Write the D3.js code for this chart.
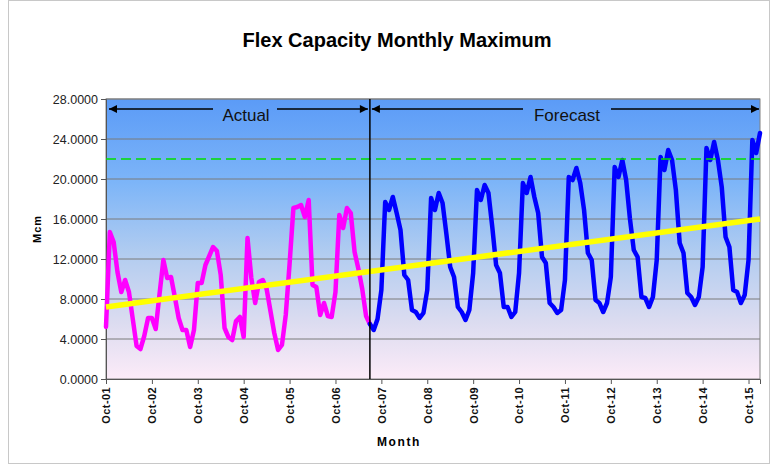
<!DOCTYPE html>
<html><head><meta charset="utf-8">
<script src="https://cdn.jsdelivr.net/npm/d3@7"></script>
<style>
body{margin:0;background:#fff;}
text{font-family:"Liberation Sans",Arial,sans-serif;}
</style></head>
<body>
<svg id="c" width="771" height="466"></svg>
<script>
// ---- data ----
const tickLabels = ["Oct-01","Oct-02","Oct-03","Oct-04","Oct-05","Oct-06","Oct-07","Oct-08","Oct-09","Oct-10","Oct-11","Oct-12","Oct-13","Oct-14","Oct-15"];
const yTicks = [0,4,8,12,16,20,24,28];
const actualStart = 0;
const actual = [5.2,14.7,13.7,10.7,8.7,9.9,8.7,6.0,3.3,3.0,
 4.3,6.1,6.1,5.0,8.5,11.9,10.1,10.2,8.2,6.1,
 4.9,4.9,3.2,4.9,9.6,9.6,11.4,12.3,13.2,12.8,
 10.4,5.1,4.2,3.9,5.8,6.2,4.2,14.1,10.1,7.6,
 9.7,9.9,9.0,6.8,4.6,2.9,3.4,6.4,11.5,17.1,
 17.2,17.4,16.2,17.9,9.4,9.2,6.4,7.6,6.3,6.2,
 8.7,16.4,15.1,17.1,16.6,12.7,11.0,9.0,6.3,5.5];
const forecastStart = 69;
const forecast = [5.5,4.9,6.0,
 8.9,17.7,16.9,18.2,16.6,14.9,10.4,9.9,6.9,6.7,6.1,6.6,
 8.9,18.1,16.9,18.6,17.6,14.5,11.2,10.2,7.2,6.7,5.9,6.9,
 10.6,18.9,17.9,19.4,18.6,15.2,11.4,10.6,7.2,7.2,6.2,6.7,
 10.6,19.6,18.6,20.2,18.2,16.6,12.2,11.6,7.6,7.2,6.6,6.9,
 9.9,20.2,19.9,21.1,19.6,16.9,12.6,11.9,7.9,7.6,6.7,7.6,
 10.2,21.2,20.2,21.9,19.9,16.0,12.9,12.2,8.2,8.1,7.2,8.2,
 11.9,22.2,20.9,22.9,21.9,18.9,13.6,12.6,8.6,8.2,7.4,8.2,
 11.2,23.1,21.9,23.7,21.9,19.2,14.2,13.2,8.9,8.7,7.6,8.4,
 11.9,23.9,22.6,24.6];
const trend = [{i:0,v:7.2},{i:171,v:16.0}];
const limit = 22;
const lastIndex = 171;

// ---- layout ----
const svg = d3.select("#c");
const L=106, R=760, T=99, B=379;
const x = d3.scaleLinear().domain([0,lastIndex]).range([L,R]);
const y = d3.scaleLinear().domain([0,28]).range([B,T]);

// outer frame
svg.append("rect").attr("x",8.5).attr("y",0.5).attr("width",761).attr("height",463)
  .attr("fill","#fff").attr("stroke","#c8c8c8");

// gradient
const defs = svg.append("defs");
const g = defs.append("linearGradient").attr("id","bg").attr("x1",0).attr("y1",0).attr("x2",0).attr("y2",1);
[[0,"#5b9bf7"],[0.3,"#7db5f8"],[0.55,"#b1ccf0"],[0.8,"#dcdcf0"],[1,"#fcebf8"]].forEach(s=>
  g.append("stop").attr("offset",s[0]).attr("stop-color",s[1]));
svg.append("rect").attr("x",L).attr("y",T).attr("width",R-L).attr("height",B-T).attr("fill","url(#bg)");

// gridlines
svg.append("g").selectAll("line").data(yTicks.filter(d=>d>0)).join("line")
  .attr("x1",L).attr("x2",R).attr("y1",d=>y(d)).attr("y2",d=>y(d))
  .attr("stroke","#7a7a7a").attr("stroke-width",1);
// plot border
svg.append("rect").attr("x",L).attr("y",T).attr("width",R-L).attr("height",B-T)
  .attr("fill","none").attr("stroke","#808080");

// title
svg.append("text").attr("x",397).attr("y",47).attr("text-anchor","middle")
  .attr("font-size",20).attr("font-weight","bold").attr("fill","#000").text("Flex Capacity Monthly Maximum");

// y axis
const ya = d3.axisLeft(y).tickValues(yTicks).tickSize(5).tickFormat(d=>d3.format(".4f")(d));
const yg = svg.append("g").attr("transform",`translate(${L},0)`).call(ya);
yg.select(".domain").attr("stroke","#555");
yg.selectAll(".tick line").attr("stroke","#555");
yg.selectAll("text").attr("font-size",12.5).attr("fill","#222").attr("font-family","Liberation Sans, Arial, sans-serif").attr("x",-8);

// x axis
const xa = d3.axisBottom(x).tickValues(tickLabels.map((d,k)=>k*12)).tickSize(5).tickFormat((d,k)=>tickLabels[k]);
const xg = svg.append("g").attr("transform",`translate(0,${B})`).call(xa);
xg.select(".domain").attr("stroke","#555");
xg.selectAll(".tick line").attr("stroke","#555");
xg.selectAll("text").attr("font-size",11).attr("font-weight","bold").attr("fill","#111")
  .attr("font-family","Liberation Sans, Arial, sans-serif")
  .attr("letter-spacing","0.4px")
  .attr("transform","rotate(-90)").attr("text-anchor","end")
  .attr("x",-8).attr("y",0).attr("dy","0.35em");

// axis titles
svg.append("text").attr("transform","translate(41,229) rotate(-90)").attr("text-anchor","middle")
  .attr("font-size",11).attr("font-weight","bold").attr("letter-spacing","1px").text("Mcm");
svg.append("text").attr("x",399).attr("y",446).attr("text-anchor","middle")
  .attr("font-size",12).attr("font-weight","bold").attr("letter-spacing","1.6px").text("Month");

// series
const line = d3.line().x(d=>x(d.i)).y(d=>y(d.v));
const aData = actual.map((v,k)=>({i:actualStart+k,v}));
const fData = forecast.map((v,k)=>({i:forecastStart+k,v}));
svg.append("path").datum(aData).attr("d",line).attr("fill","none").attr("stroke","#ff00ff")
  .attr("stroke-width",4.5).attr("stroke-linejoin","round").attr("stroke-linecap","round");
svg.append("path").datum(fData).attr("d",line).attr("fill","none").attr("stroke","#0000ff")
  .attr("stroke-width",4.5).attr("stroke-linejoin","round").attr("stroke-linecap","round");
svg.append("path").datum(trend).attr("d",line).attr("fill","none").attr("stroke","#ffff00")
  .attr("stroke-width",5.5);
svg.append("line").attr("x1",L).attr("x2",R).attr("y1",y(limit)).attr("y2",y(limit))
  .attr("stroke","#00e000").attr("stroke-width",1.6).attr("stroke-dasharray","10,5");

// separator
const xs = x(forecastStart);
svg.append("line").attr("x1",xs).attr("x2",xs).attr("y1",T).attr("y2",B).attr("stroke","#000").attr("stroke-width",1.5);

// arrows
const ay = 109;
defs.append("marker").attr("id","ah").attr("viewBox","0 0 10 10").attr("refX",10).attr("refY",5)
  .attr("markerWidth",10).attr("markerHeight",8).attr("markerUnits","userSpaceOnUse").attr("orient","auto-start-reverse")
  .append("path").attr("d","M0,0 L10,5 L0,10 Z").attr("fill","#000");
function seg(x1,x2,startHead,endHead){
  const l = svg.append("line").attr("x1",x1).attr("x2",x2).attr("y1",ay).attr("y2",ay).attr("stroke","#000").attr("stroke-width",1.5);
  if(startHead) l.attr("marker-start","url(#ah)");
  if(endHead) l.attr("marker-end","url(#ah)");
}
seg(x(0)+3,213,true,false);
seg(277,xs-2,false,true);
seg(xs+2,523,true,false);
seg(611,x(lastIndex)-1,false,true);
svg.append("text").attr("x",246).attr("y",121).attr("text-anchor","middle").attr("font-size",17).attr("fill","#111").text("Actual");
svg.append("text").attr("x",567).attr("y",121).attr("text-anchor","middle").attr("font-size",17).attr("fill","#111").text("Forecast");
</script>
</body></html>
